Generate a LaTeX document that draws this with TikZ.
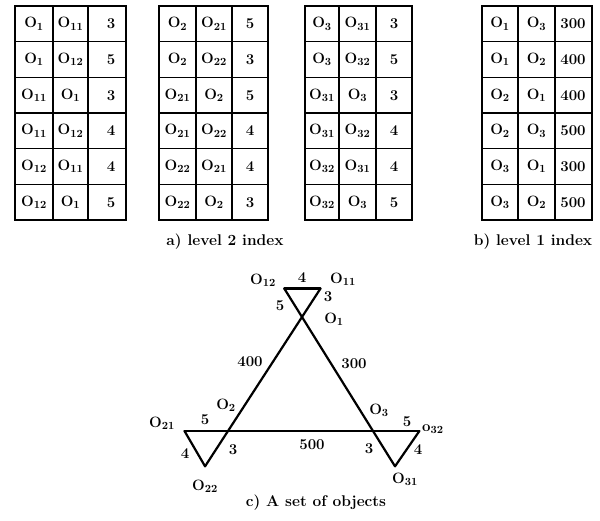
\documentclass[tikz,border=0pt]{standalone}
\usetikzlibrary{calc,positioning}

\begin{document}
\begin{tikzpicture}[x=1pt, y=-1pt,
    every node/.style={font=\fontsize{15}{17}\selectfont\bfseries, inner sep=1pt},
    cell/.style={inner sep=0pt},
    frame/.style={line width=2.4pt},
    rule/.style={line width=1.2pt},
    edge/.style={line width=2.2pt, line cap=round},
    caption/.style={font=\fontsize{15.5}{18}\selectfont\bfseries}]
  \useasboundingbox (0,0) rectangle (600,521);
  % level 2 index, first table
  \foreach \a/\b/\c [count=\r] in {O$_\mathbf{1}$/O$_\mathbf{11}$/3, O$_\mathbf{1}$/O$_\mathbf{12}$/5, O$_\mathbf{11}$/O$_\mathbf{1}$/3,
      O$_\mathbf{11}$/O$_\mathbf{12}$/4, O$_\mathbf{12}$/O$_\mathbf{11}$/4, O$_\mathbf{12}$/O$_\mathbf{1}$/5}{
    \node[cell] (ta\r a) at (34,{6+35.67*(\r-0.5)}) {\a};
    \node[cell] (ta\r b) at (70.5,{6+35.67*(\r-0.5)}) {\b};
    \node[cell] (ta\r c) at (111,{6+35.67*(\r-0.5)}) {\c};
  }
  % level 2 index, second table
  \foreach \a/\b/\c [count=\r] in {O$_\mathbf{2}$/O$_\mathbf{21}$/5, O$_\mathbf{2}$/O$_\mathbf{22}$/3, O$_\mathbf{21}$/O$_\mathbf{2}$/5,
      O$_\mathbf{21}$/O$_\mathbf{22}$/4, O$_\mathbf{22}$/O$_\mathbf{21}$/4, O$_\mathbf{22}$/O$_\mathbf{2}$/3}{
    \node[cell] (tb\r a) at (177.5,{6+35.67*(\r-0.5)}) {\a};
    \node[cell] (tb\r b) at (214,{6+35.67*(\r-0.5)}) {\b};
    \node[cell] (tb\r c) at (250,{6+35.67*(\r-0.5)}) {\c};
  }
  % level 2 index, third table
  \foreach \a/\b/\c [count=\r] in {O$_\mathbf{3}$/O$_\mathbf{31}$/3, O$_\mathbf{3}$/O$_\mathbf{32}$/5, O$_\mathbf{31}$/O$_\mathbf{3}$/3,
      O$_\mathbf{31}$/O$_\mathbf{32}$/4, O$_\mathbf{32}$/O$_\mathbf{31}$/4, O$_\mathbf{32}$/O$_\mathbf{3}$/5}{
    \node[cell] (tc\r a) at (322,{6+35.67*(\r-0.5)}) {\a};
    \node[cell] (tc\r b) at (357.5,{6+35.67*(\r-0.5)}) {\b};
    \node[cell] (tc\r c) at (394,{6+35.67*(\r-0.5)}) {\c};
  }
  % level 1 index
  \foreach \a/\b/\c [count=\r] in {O$_\mathbf{1}$/O$_\mathbf{3}$/300, O$_\mathbf{1}$/O$_\mathbf{2}$/400, O$_\mathbf{2}$/O$_\mathbf{1}$/400,
      O$_\mathbf{2}$/O$_\mathbf{3}$/500, O$_\mathbf{3}$/O$_\mathbf{1}$/300, O$_\mathbf{3}$/O$_\mathbf{2}$/500}{
    \node[cell] (td\r a) at (500,{6+35.67*(\r-0.5)}) {\a};
    \node[cell] (td\r b) at (536.5,{6+35.67*(\r-0.5)}) {\b};
    \node[cell] (td\r c) at (573,{6+35.67*(\r-0.5)}) {\c};
  }
  % grids
  \foreach \xa/\xb/\xc/\xd in {15/53/88/126, 159/196/232/268, 305/339/376/412, 482/518/555/592}{
    \foreach \r in {1,...,5}{
      \draw[rule] (\xa,{6+35.67*\r}) -- (\xd,{6+35.67*\r});
    }
    \draw[rule] (\xb,6) -- (\xb,220);
    \draw[rule] (\xc,6) -- (\xc,220);
    \draw[frame] (\xa,6) rectangle (\xd,220);
  }
  \node[caption] (capa) at (225,242) {a) level 2 index};
  \node[caption] (capb) at (533,242) {b) level 1 index};

  % the set of objects
  \coordinate (o1) at (302,317);
  \coordinate (o2) at (228,431);
  \coordinate (o3) at (373,431);
  \coordinate (o11) at ($(o1)!-0.25!(o2)$);
  \coordinate (o12) at ($(o1)!-0.25!(o3)$);
  \coordinate (o22) at ($(o2)!-0.31!(o1)$);
  \coordinate (o31) at ($(o3)!-0.31!(o1)$);
  \coordinate (o21) at ($(o2)!-0.3!(o3)$);
  \coordinate (o32) at ($(o3)!-0.32!(o2)$);
  \draw[edge] (o11) -- (o22);
  \draw[edge] (o12) -- (o31);
  \draw[edge] (o21) -- (o32);
  \draw[edge] (o12) -- (o11);
  \draw[edge] (o21) -- (o22);
  \draw[edge] (o31) -- (o32);
  \node (lo12) at (263,280) {O$_\mathbf{12}$};
  \node (w12) at (302,278) {4};
  \node (lo11) at (343,279) {O$_\mathbf{11}$};
  \node (w1a) at (280,306) {5};
  \node (w1b) at (328,297) {3};
  \node (lo1) at (334,319) {O$_\mathbf{1}$};
  \node (w400) at (250,362) {400};
  \node (w300) at (354,364) {300};
  \node (lo2) at (226,405) {O$_\mathbf{2}$};
  \node (lo21) at (162,423) {O$_\mathbf{21}$};
  \node (w2a) at (205,420) {5};
  \node (w2b) at (185,454) {4};
  \node (w2c) at (233,450) {3};
  \node (w500) at (312,445) {500};
  \node (lo3) at (379,410) {O$_\mathbf{3}$};
  \node (w3a) at (407,422) {5};
  \node (lo32) at (433,429) {o$_\mathbf{32}$};
  \node (w3b) at (369,449) {3};
  \node (w3c) at (418,450) {4};
  \node (lo22) at (205,486) {O$_\mathbf{22}$};
  \node (lo31) at (405,479) {O$_\mathbf{31}$};
  \node[caption] (capc) at (316,503) {c) A set of objects};
\end{tikzpicture}
\end{document}
